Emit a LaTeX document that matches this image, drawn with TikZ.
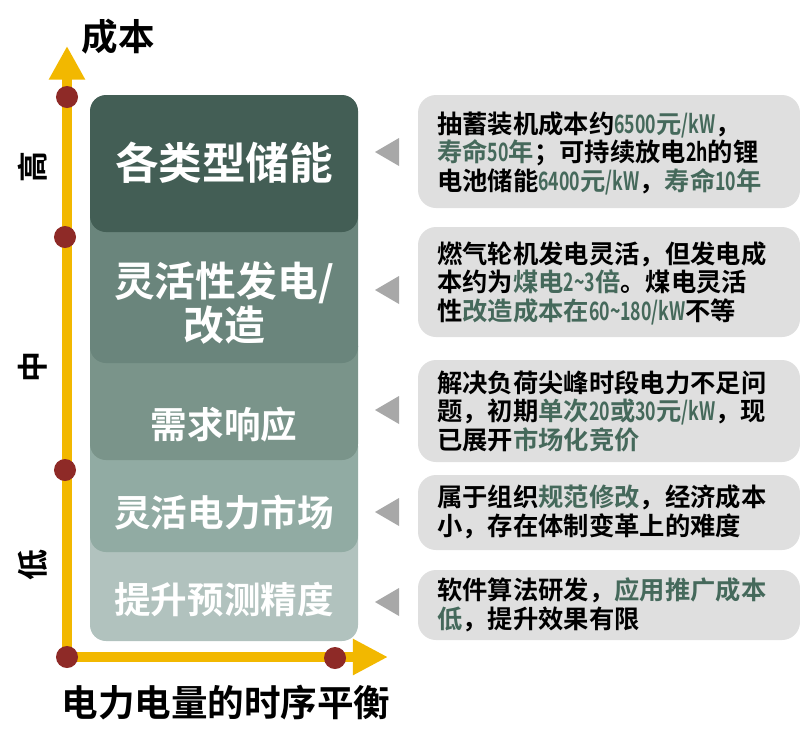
\documentclass[tikz,border=0pt]{standalone}
\usepackage{fontspec}
\usepackage{graphicx}
\setmainfont{Noto Sans CJK SC}[BoldFont={Noto Sans CJK SC Bold}]
\usetikzlibrary{positioning,arrows.meta}
\definecolor{axisyellow}{HTML}{F2B800}
\definecolor{dotred}{HTML}{8E2A27}
\definecolor{layerA}{HTML}{435E55}
\definecolor{layerB}{HTML}{6A857C}
\definecolor{layerC}{HTML}{7A948A}
\definecolor{layerD}{HTML}{91ABA3}
\definecolor{layerE}{HTML}{B1C2BE}
\definecolor{notegray}{HTML}{DFDFDF}
\definecolor{tipgray}{HTML}{A8A8A8}
\definecolor{greentext}{HTML}{45695B}
\newcommand{\hilite}[1]{{\color{greentext}#1}}
\newcommand{\nr}[1]{\scalebox{0.7}[1]{#1}}
\tikzset{
  axis/.style={axisyellow, line width=0.25cm,
    {Triangle[width=0.85cm,length=0.84cm]}-{Triangle[width=0.85cm,length=0.88cm]}},
  dot/.style={circle, fill=dotred, inner sep=0pt, minimum size=0.55cm},
  layertext/.style={white, font=\bfseries\fontsize{26}{27}\selectfont, align=center},
  notetext/.style={anchor=west, inner sep=0pt, align=left,
    font=\bfseries\fontsize{18}{20.3}\selectfont},
  axislabel/.style={font=\bfseries\fontsize{26}{30}\selectfont},
  levellabel/.style={rotate=90, font=\bfseries\fontsize{22}{24}\selectfont},
}
\begin{document}
\begin{tikzpicture}[x=0.025cm, y=-0.025cm]
  \useasboundingbox (0,0) rectangle (800,750);
  %
  % stacked layers, lowest first
  \foreach \top/\bot/\col in {520/641/layerE, 430/552/layerD, 330/460/layerC,
                             200/363/layerB, 95/232/layerA} {
    \fill[\col, rounded corners=0.4cm] (90,\top) rectangle (358,\bot);
  }
  \node[layertext, font=\bfseries\fontsize{31}{32}\selectfont] (storage) at (224,163) {各类型储能};
  \node[layertext, font=\bfseries\fontsize{29}{28.5}\selectfont] (flexgen) at (224,303) {灵活性发电/\\改造};
  \node[layertext] (demand) at (224,425) {需求响应};
  \node[layertext] (market) at (224,513) {灵活电力市场};
  \node[layertext] (forecast) at (224,600) {提升预测精度};
  %
  % axes
  \coordinate (origin) at (67,657);
  \coordinate (ytop) at (67,46);
  \coordinate (xend) at (388,657);
  \draw[axis] (ytop) -- (origin) -- (xend);
  \foreach \name/\pos in {dhigh/{(67,97)}, dmid/{(65,237)}, dlow/{(65,470)},
                          dorigin/{(67,657)}, dright/{(335,658)}} {
    \node[dot] (\name) at \pos {};
  }
  \node[axislabel] (costlabel) at (118,37) {成本};
  \node[axislabel] (timelabel) at (226,703) {电力电量的时序平衡};
  \node[levellabel] (high) at (33,167) {高};
  \node[levellabel] (middle) at (33,367) {中};
  \node[levellabel] (low) at (33,565) {低};
  %
  % notes on the right
  \foreach \top/\bot/\tip in {95/208/152, 227/337/290, 360/462/410, 475/550/512, 570/640/602} {
    \fill[notegray, rounded corners=0.45cm] (418,\top) rectangle (800,\bot);
    \fill[tipgray] (375,\tip) -- (399,{\tip-14}) -- (399,{\tip+14}) -- cycle;
  }
  \node[notetext] (noteA) at (437,153) {抽蓄装机成本约\hilite{\nr{6500}元\nr{/kW}}，\\
    \hilite{寿命\nr{50}年}；可持续放电\nr{2h}的锂\\
    电池储能\hilite{\nr{6400}元\nr{/kW}}，\hilite{寿命\nr{10}年}};
  \node[notetext] (noteB) at (437,283) {燃气轮机发电灵活，但发电成\\
    本约为\hilite{煤电\nr{2\textasciitilde3}倍}。煤电灵活\\
    性\hilite{改造成本在\nr{60\textasciitilde180/kW}}不等};
  \node[notetext] (noteC) at (437,411) {解决负荷尖峰时段电力不足问\\
    题，初期\hilite{单次\nr{20}或\nr{30}元\nr{/kW}}，现\\
    已展开\hilite{市场化竞价}};
  \node[notetext] (noteD) at (437,512) {属于组织\hilite{规范修改}，经济成本\\
    小，存在体制变革上的难度};
  \node[notetext] (noteE) at (437,605) {软件算法研发，\hilite{应用推广成本}\\
    \hilite{低}，提升效果有限};
\end{tikzpicture}
\end{document}
